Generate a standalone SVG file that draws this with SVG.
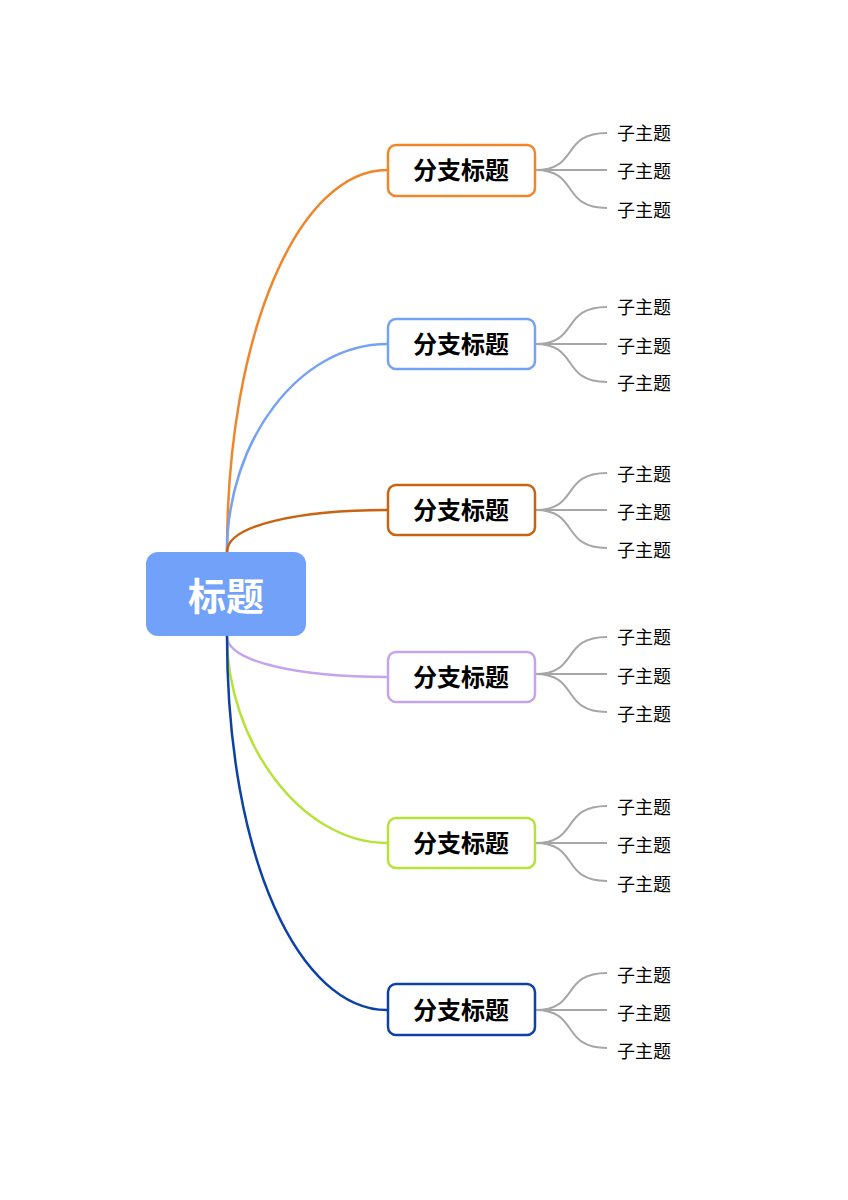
<svg xmlns="http://www.w3.org/2000/svg" width="848" height="1200" viewBox="0 0 848 1200">
<style>
.b{fill:#fff;stroke-width:2.5}
.bt{font-family:"Noto Sans CJK SC",sans-serif;font-weight:bold;font-size:24px;text-anchor:middle;fill:#000}
.st{font-family:"Noto Sans CJK SC",sans-serif;font-size:18px;fill:#000}
.c{fill:none;stroke-width:2.5}
.g{fill:none;stroke:#a6a6a6;stroke-width:2}
</style>
<rect width="848" height="1200" fill="#fff"/>
<g id="connectors">
<path class="c" stroke="#f0862a" d="M227,552 C227,330 300,170 387,170"/>
<path class="c" stroke="#74a2f5" d="M227,552 C227,440 300,344 387,344"/>
<path class="c" stroke="#c8640f" d="M227,552 C227,525 300,510 387,510"/>
<path class="c" stroke="#c4a4ee" d="M227,636 C227,662 300,677 387,677"/>
<path class="c" stroke="#b6e23a" d="M227,636 C227,740 300,843 387,843"/>
<path class="c" stroke="#0d41a8" d="M227,636 C227,860 300,1010 387,1010"/>
<g>
<path class="g" d="M535,170 C580,170 560,133 607,133 M535,170 H607 M535,170 C580,170 560,208 607,208"/>
<path class="g" d="M535,344 C580,344 560,307 607,307 M535,344 H607 M535,344 C580,344 560,382 607,382"/>
<path class="g" d="M535,510 C580,510 560,473 607,473 M535,510 H607 M535,510 C580,510 560,548 607,548"/>
<path class="g" d="M535,674 C580,674 560,637 607,637 M535,674 H607 M535,674 C580,674 560,712 607,712"/>
<path class="g" d="M535,843 C580,843 560,806 607,806 M535,843 H607 M535,843 C580,843 560,881 607,881"/>
<path class="g" d="M535,1010 C580,1010 560,973 607,973 M535,1010 H607 M535,1010 C580,1010 560,1048 607,1048"/>
</g>
</g>
<g id="root">
<rect x="146" y="552" width="160" height="84" rx="12" fill="#71a1f8"/>
<text x="226" y="610" font-family="'Noto Sans CJK SC',sans-serif" font-weight="bold" font-size="38" fill="#fff" text-anchor="middle">标题</text>
</g>
<g id="b1"><rect class="b" stroke="#f0862a" x="388" y="145" width="147" height="51" rx="8"/><text class="bt" x="461" y="179">分支标题</text></g>
<g id="b2"><rect class="b" stroke="#74a2f5" x="388" y="319" width="147" height="50" rx="8"/><text class="bt" x="461" y="353">分支标题</text></g>
<g id="b3"><rect class="b" stroke="#c8640f" x="388" y="485" width="147" height="50" rx="8"/><text class="bt" x="461" y="519">分支标题</text></g>
<g id="b4"><rect class="b" stroke="#c4a4ee" x="388" y="652" width="147" height="50" rx="8"/><text class="bt" x="461" y="686">分支标题</text></g>
<g id="b5"><rect class="b" stroke="#b6e23a" x="388" y="818" width="147" height="50" rx="8"/><text class="bt" x="461" y="852">分支标题</text></g>
<g id="b6"><rect class="b" stroke="#0d41a8" x="388" y="984" width="147" height="51" rx="8"/><text class="bt" x="461" y="1019">分支标题</text></g>
<g id="subs">
<text class="st" x="617" y="140">子主题</text><text class="st" x="617" y="178">子主题</text><text class="st" x="617" y="217">子主题</text>
<text class="st" x="617" y="314">子主题</text><text class="st" x="617" y="353">子主题</text><text class="st" x="617" y="390">子主题</text>
<text class="st" x="617" y="481">子主题</text><text class="st" x="617" y="519">子主题</text><text class="st" x="617" y="557">子主题</text>
<text class="st" x="617" y="644">子主题</text><text class="st" x="617" y="683">子主题</text><text class="st" x="617" y="721">子主题</text>
<text class="st" x="617" y="814">子主题</text><text class="st" x="617" y="852">子主题</text><text class="st" x="617" y="891">子主题</text>
<text class="st" x="617" y="982">子主题</text><text class="st" x="617" y="1020">子主题</text><text class="st" x="617" y="1058">子主题</text>
</g>
</svg>
